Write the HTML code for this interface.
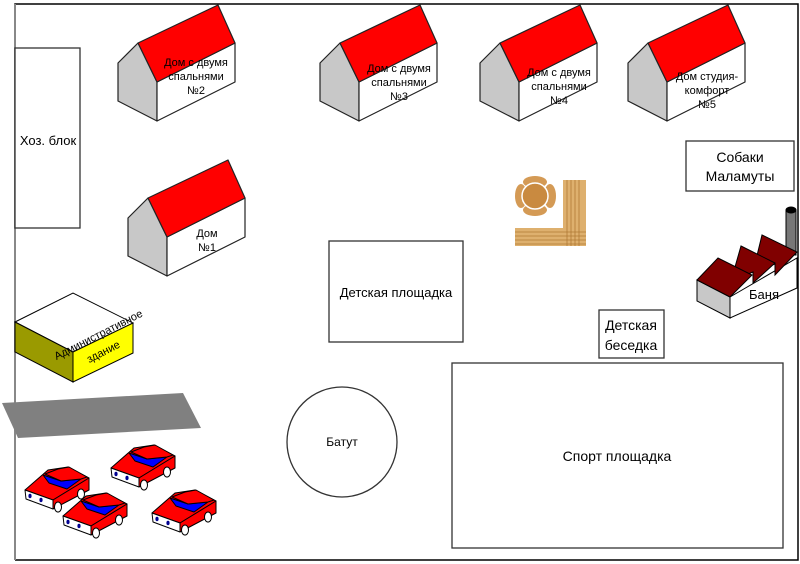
<!DOCTYPE html>
<html><head><meta charset="utf-8"><style>
html,body{margin:0;padding:0;background:#fff;}
svg{display:block;font-family:"Liberation Sans","DejaVu Sans",sans-serif;}
</style></head><body>
<svg width="800" height="564" viewBox="0 0 800 564" xmlns="http://www.w3.org/2000/svg">
<defs>
<g id="house" stroke="#222" stroke-width="1.2" stroke-linejoin="round">
  <polygon points="0,58 20,38 39,77 39,116 0,96" fill="#c8c8c8"/>
  <polygon points="39,77 117,38 117,77 39,116" fill="#fff"/>
  <polygon points="20,38 100,0 117,38 39,77" fill="#ff0000"/>
</g>
<g id="car" stroke="#000" stroke-width="1" stroke-linejoin="round">
  <polygon points="0,25 23,5 43,2 64,13 28,35" fill="#ff0000"/>
  <polygon points="28,35 64,13 64,25 28,44" fill="#ff0000"/>
  <polygon points="0,25 28,35 28,44 1,34" fill="#fff"/>
  <polygon points="18,10 36,16 56,14 42,24 24,18" fill="#0000ff"/>
  <polygon points="33,4 44,2 62,12 56,14 36,16 20,9" fill="#ff0000"/>
  <ellipse cx="5" cy="31" rx="1.6" ry="2.2" fill="#000090" stroke="none"/>
  <ellipse cx="16" cy="35" rx="1.6" ry="2.2" fill="#000090" stroke="none"/>
  <ellipse cx="33" cy="42" rx="3.5" ry="5" fill="#fff"/>
  <ellipse cx="56" cy="29" rx="3.5" ry="5" fill="#fff"/>
</g>
</defs>
<polyline points="15,560 15,4 798,4 798,560 15,560" fill="none" stroke="#000" stroke-width="1.5"/>
<line x1="15" y1="4" x2="15" y2="560" stroke="#888" stroke-width="2"/>
<use href="#house" x="118" y="5"/>
<use href="#house" x="320" y="5"/>
<use href="#house" x="480" y="5"/>
<use href="#house" x="628" y="5"/>
<use href="#house" x="128" y="160"/>
<g font-size="11" fill="#000" text-anchor="middle">
<text x="196" y="66">Дом с двумя</text><text x="196" y="80">спальнями</text><text x="196" y="94">№2</text>
<text x="399" y="72">Дом с двумя</text><text x="399" y="86">спальнями</text><text x="399" y="100">№3</text>
<text x="559" y="76">Дом с двумя</text><text x="559" y="90">спальнями</text><text x="559" y="104">№4</text>
<text x="707" y="80">Дом студия-</text><text x="707" y="94">комфорт</text><text x="707" y="108">№5</text>
<text x="207" y="237">Дом</text><text x="207" y="251">№1</text>
</g>
<g fill="#fff" stroke="#333" stroke-width="1.3">
<rect x="15" y="48" width="65" height="180"/>
<rect x="686" y="141" width="108" height="50"/>
<rect x="329" y="241" width="134" height="101"/>
<rect x="599" y="310" width="65" height="48"/>
<rect x="452" y="363" width="331" height="185"/>
<circle cx="342" cy="442" r="55"/>
</g>
<g font-size="14" fill="#000" text-anchor="middle">
<text x="48" y="145" font-size="13">Хоз. блок</text>
<text x="740" y="162">Собаки</text><text x="740" y="181">Маламуты</text>
<text x="396" y="297" font-size="13">Детская площадка</text>
<text x="631" y="330">Детская</text><text x="631" y="350">беседка</text>
<text x="617" y="461">Спорт площадка</text>
<text x="342" y="446" font-size="12">Батут</text>
</g>
<g stroke="#000" stroke-width="1">
<polygon points="15,322 73,293 133,323 73,352" fill="#fff"/>
<polygon points="15,322 73,352 73,382 15,352" fill="#9a9a00"/>
<polygon points="73,352 133,323 133,353 73,382" fill="#ffff00"/>
</g>
<g font-size="11" fill="#000" text-anchor="middle">
<text transform="translate(100,338) rotate(-27)">Административное</text>
<text transform="translate(105,355) rotate(-27)">здание</text>
</g>
<polygon points="2,403 183,393 201,428 18,438" fill="#808080"/>
<use href="#car" x="25" y="465"/>
<use href="#car" x="111" y="443"/>
<use href="#car" x="63" y="491"/>
<use href="#car" x="152" y="488"/>
<g>
<ellipse cx="521" cy="196" rx="6" ry="12" fill="#d49a55"/>
<ellipse cx="550" cy="196" rx="6" ry="12" fill="#d49a55"/>
<ellipse cx="535" cy="182" rx="12" ry="6" fill="#d49a55"/>
<ellipse cx="535" cy="210" rx="12" ry="6" fill="#d49a55"/>
<circle cx="535" cy="196" r="13" fill="#c98a40" stroke="#fff" stroke-width="1.5"/>
<rect x="563" y="180" width="23" height="66" fill="#deb06e"/>
<rect x="515" y="228" width="71" height="18" fill="#deb06e"/>
<g stroke="#b07a35" stroke-width="0.8">
<line x1="567" y1="180" x2="567" y2="246"/><line x1="571" y1="180" x2="571" y2="246"/><line x1="575" y1="180" x2="575" y2="246"/><line x1="579" y1="180" x2="579" y2="246"/>
<line x1="515" y1="232" x2="586" y2="232"/><line x1="515" y1="236" x2="586" y2="236"/><line x1="515" y1="240" x2="586" y2="240"/><line x1="515" y1="244" x2="586" y2="244"/>
</g>
</g>
<g stroke="#000" stroke-width="1">
<rect x="786" y="210" width="10" height="45" fill="#777"/>
<ellipse cx="791" cy="210" rx="5" ry="3" fill="#000"/>
<polygon points="697,280 730,297 730,318 697,301" fill="#c8c8c8"/>
<polygon points="730,297 797,258 797,288 730,318" fill="#fff"/>
<polygon points="762,235 797,252 775,275 775,264 753,272" fill="#800000"/>
<polygon points="741,246 775,263 753,283 753,272 731,281" fill="#800000"/>
<polygon points="697,280 718,258 752,275 730,297" fill="#800000"/>
</g>
<text x="764" y="299" font-size="13" text-anchor="middle" fill="#000">Баня</text>
</svg>
</body></html>
